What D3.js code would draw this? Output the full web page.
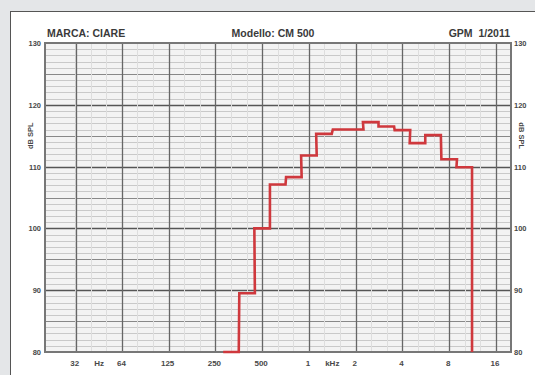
<!DOCTYPE html>
<html>
<head>
<meta charset="utf-8">
<script src="https://cdn.jsdelivr.net/npm/d3@7"></script>
<style>
  body { margin: 0; background: #e4e6e8; }
  svg { display: block; font-family: "Liberation Sans", Arial, sans-serif; }
</style>
</head>
<body>
<div id="chart"></div>
<script>
// 1/3 octave bands (centre frequency, Hz) and level, dB SPL
const bands = [315, 400, 500, 630, 800, 1000, 1250, 1600, 2000, 2500, 3150, 4000, 5000, 6300, 8000, 10000];
const levels = [80, 89.5, 100, 107.1, 108.3, 111.8, 115.3, 116, 116, 117.2, 116.5, 115.9, 113.8, 115.1, 111.2, 109.9];

const xTicks = [31.5, 63, 125, 250, 500, 1000, 2000, 4000, 8000, 16000];
const xTickLabels = ["32", "64", "125", "250", "500", "1", "2", "4", "8", "16"];
const yTicks = [80, 90, 100, 110, 120, 130];
const header = ["MARCA: CIARE", "Modello: CM 500", "GPM  1/2011"];

const W = 535, H = 375;
const plot = {left: 45, right: 511, top: 43, bottom: 352};

const x = d3.scaleLog().domain([20, 20000]).range([plot.left, plot.right]);
const y = d3.scaleLinear().domain([80, 130]).range([plot.bottom, plot.top]);

const svg = d3.select("#chart").append("svg")
    .attr("width", W)
    .attr("height", H);

// white sheet
svg.append("rect")
    .attr("x", 10.5).attr("y", 11.5)
    .attr("width", W).attr("height", H)
    .attr("fill", "#fff")
    .attr("stroke", "#555");

svg.append("rect")
    .attr("x", plot.left).attr("y", plot.top)
    .attr("width", plot.right - plot.left).attr("height", plot.bottom - plot.top)
    .attr("fill", "#f3f3f3");

const grid = svg.append("g");

// horizontal grid, 1 dB / 5 dB / 10 dB
grid.selectAll("line.h")
  .data(d3.range(81, 130))
  .enter().append("line")
    .attr("class", "h")
    .attr("x1", plot.left).attr("x2", plot.right)
    .attr("y1", d => Math.round(y(d)) + 0.5)
    .attr("y2", d => Math.round(y(d)) + 0.5)
    .attr("stroke", d => d % 10 === 0 ? "#555" : d % 5 === 0 ? "#888" : "#c9c9c9")
    .attr("stroke-width", d => d % 10 === 0 ? 1.6 : 1);

// vertical grid, third octaves light, octaves dark
const thirds = d3.range(-15, 15).map(i => 1000 * Math.pow(2, i / 3)).filter(f => f > 21 && f < 19500);
grid.selectAll("line.v3")
  .data(thirds)
  .enter().append("line")
    .attr("class", "v3")
    .attr("x1", d => Math.round(x(d)) + 0.5).attr("x2", d => Math.round(x(d)) + 0.5)
    .attr("y1", plot.top).attr("y2", plot.bottom)
    .attr("stroke", "#dedede");

grid.selectAll("line.v")
  .data(xTicks)
  .enter().append("line")
    .attr("class", "v")
    .attr("x1", d => Math.round(x(d)) + 0.5).attr("x2", d => Math.round(x(d)) + 0.5)
    .attr("y1", plot.top).attr("y2", plot.bottom)
    .attr("stroke", "#666")
    .attr("stroke-width", 1.3);

svg.append("rect")
    .attr("x", plot.left).attr("y", plot.top)
    .attr("width", plot.right - plot.left).attr("height", plot.bottom - plot.top)
    .attr("fill", "none")
    .attr("stroke", "#777")
    .attr("stroke-width", 2);

// step curve from the band edges
const pts = [];
bands.forEach((f, i) => {
  pts.push([f * Math.pow(2, -1 / 6), levels[i]]);
  pts.push([f * Math.pow(2, 1 / 6), levels[i]]);
});
pts.push([bands[bands.length - 1] * Math.pow(2, 1 / 6), 80]);

const line = d3.line()
    .x(d => x(d[0]))
    .y(d => y(d[1]));

svg.append("path")
    .datum(pts)
    .attr("d", line)
    .attr("fill", "none")
    .attr("stroke", "#cf383d")
    .attr("stroke-width", 2.6)
    .attr("stroke-linejoin", "miter");

// header
svg.selectAll("text.head")
  .data(header)
  .enter().append("text")
    .attr("class", "head")
    .attr("x", (d, i) => [47, 273, 510][i])
    .attr("y", 37)
    .attr("text-anchor", (d, i) => ["start", "middle", "end"][i])
    .attr("font-size", 10.5)
    .attr("font-weight", "bold")
    .attr("fill", "#3a3a3a")
    .attr("xml:space", "preserve")
    .text(d => d);

// y labels both sides
const yl = svg.append("g")
    .attr("font-size", 7.5)
    .attr("font-weight", "bold")
    .attr("fill", "#484848");

yl.selectAll("text.yl")
  .data(yTicks)
  .enter().append("text")
    .attr("x", 41)
    .attr("y", d => y(d) + 3)
    .attr("text-anchor", "end")
    .text(d => d);

yl.selectAll("text.yr")
  .data(yTicks)
  .enter().append("text")
    .attr("x", 514)
    .attr("y", d => y(d) + 3)
    .attr("text-anchor", "start")
    .text(d => d);

yl.append("text")
    .attr("transform", `translate(33, ${y(115)}) rotate(-90)`)
    .attr("text-anchor", "middle")
    .text("dB SPL");

yl.append("text")
    .attr("transform", `translate(519, ${y(115)}) rotate(90)`)
    .attr("text-anchor", "middle")
    .text("dB SPL");

// x labels
const xl = svg.append("g")
    .attr("font-size", 8)
    .attr("font-weight", "bold")
    .attr("fill", "#484848")
    .attr("text-anchor", "middle");

xl.selectAll("text.xt")
  .data(xTicks)
  .enter().append("text")
    .attr("x", d => x(d) - 1)
    .attr("y", 366)
    .text((d, i) => xTickLabels[i]);

xl.append("text")
    .attr("x", x(Math.sqrt(31.5 * 63)))
    .attr("y", 366)
    .text("Hz");

xl.append("text")
    .attr("x", x(Math.sqrt(1000 * 2000)))
    .attr("y", 366)
    .text("kHz");
</script>
</body>
</html>
